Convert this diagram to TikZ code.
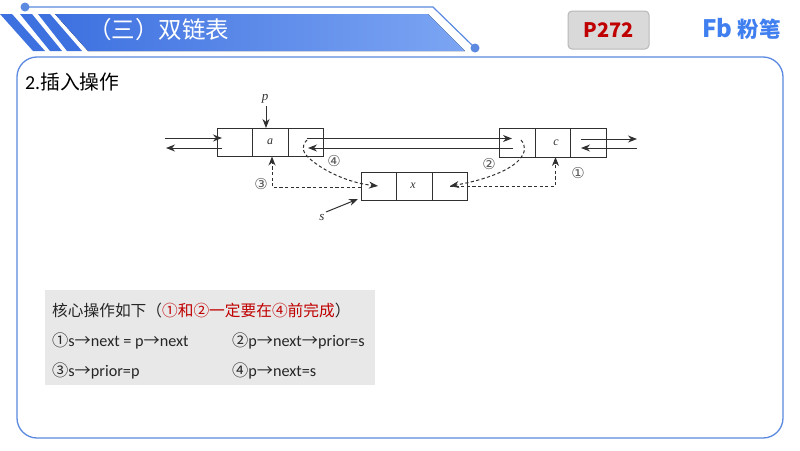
\documentclass[tikz,border=0pt]{standalone}
\usepackage{fontspec}
\usetikzlibrary{arrows.meta}
\setmainfont{Carlito}
\newfontfamily\cjk{Noto Sans CJK SC}
\newfontfamily\djv{DejaVu Sans}
\newfontfamily\serifit{Liberation Serif}
\newcommand{\fs}[1]{\fontsize{#1}{#1}\selectfont}
\newcommand{\ar}{{\cjk →}}
\newcommand{\cn}[1]{{\cjk #1}}
\definecolor{bluel}{HTML}{5B8AE0}
\definecolor{bluea}{HTML}{3E71E0}
\definecolor{blueb}{HTML}{7CA5F3}
\definecolor{logoc}{HTML}{3F7FF0}
\definecolor{redt}{HTML}{C00000}
\definecolor{ink}{HTML}{262626}
\definecolor{diag}{HTML}{303030}
\tikzset{
  cell/.style={draw=diag,line width=1pt,minimum width=35.5pt,minimum height=28.5pt,inner sep=0pt,outer sep=0pt,anchor=north west},
  lnk/.style={draw=diag,line width=1pt,-{Stealth[length=9pt,width=7pt]}},
  lnkd/.style={lnk,dash pattern=on 3.2pt off 2.4pt},
  val/.style={font=\fs{12}\serifit\itshape,text=diag,inner sep=0pt},
  ptr/.style={font=\fs{13}\serifit\itshape,text=diag,inner sep=0pt},
  circ/.style={font=\fs{15}\djv,text=diag!80,inner sep=0pt},
  line/.style={anchor=west,inner sep=0pt,text=ink,font=\fs{16.2}},
}
\begin{document}
\begin{tikzpicture}[x=1pt,y=-1pt]
\useasboundingbox (0,0) rectangle (800,450);
\fill[white] (0,0) rectangle (800,450);
% banner
\fill[left color=bluea,right color=blueb] (55,14) -- (428,14) -- (465,51) -- (88,51) -- cycle;
\fill[bluea] (0,14) -- (12,14) -- (45,51) -- (33,51) -- cycle;
\fill[bluea] (20,14) -- (32,14) -- (62,51) -- (50,51) -- cycle;
\fill[bluea] (38,14) -- (50,14) -- (82,51) -- (67,51) -- cycle;
\draw[bluel,line width=1.2pt] (25,7) -- (433,7) -- (475,48);
\fill[bluel] (25,7) circle (4.5);
\fill[bluel] (475,48) circle (4.5);
\node[anchor=west,inner sep=0pt,text=white,font=\fs{23.5}\cjk] (title) at (88,30) {（三）双链表};
% P272
\node[draw=black!28,line width=1pt,fill=black!15,rounded corners=4pt,minimum width=81pt,minimum height=38pt,inner sep=0pt,text=redt,font=\fs{20}\cjk\bfseries] (page) at (608.5,30) {P272};
% logo
\node[inner sep=0pt,text=logoc,draw=none,font=\fs{24}\cjk\bfseries] (fb) at (717.5,28) {Fb};
\node[inner sep=0pt,text=logoc,font=\fs{21.5}\cjk\bfseries] (brand) at (759,29) {粉笔};
% frame
\draw[bluel,line width=1.3pt,rounded corners=20pt] (17,57) rectangle (783,438);
\node[anchor=west,inner sep=0pt,text=black,font=\fs{19.8}] (head) at (25,82) {2.\cn{插入操作}};
% a
\node[cell] (a1) at (217,128) {};
\node[cell] (a2) at (252.5,128) {};
\node[cell] (a3) at (288,128) {};
\node[val] (aval) at (270,142) {a};
% c
\node[cell] (c1) at (499.5,128.5) {};
\node[cell] (c2) at (535,128.5) {};
\node[cell] (c3) at (570.5,128.5) {};
\node[val] (cval) at (556,143) {c};
% x
\node[cell] (x1) at (361,172) {};
\node[cell] (x2) at (396.5,172) {};
\node[cell] (x3) at (432,172) {};
\node[val] (xval) at (413,186) {x};
% free ends
\coordinate (inl) at (165,138);
\coordinate (inr) at (222,138);
\coordinate (outl) at (166,148);
\coordinate (outr) at (222,148);
\coordinate (nexts) at (307,138.5);
\coordinate (nexte) at (512,138.5);
\coordinate (prevs) at (513,148);
\coordinate (preve) at (308,148);
\coordinate (rts) at (581,139);
\coordinate (rte) at (637,139);
\coordinate (rbs) at (637,148);
\coordinate (rbe) at (581,148);
\coordinate (xn) at (450,186);
\coordinate (xp) at (378,186);
\coordinate (fourS) at (307,140);
\coordinate (twoS) at (521,140);
\coordinate (up3) at (272,187);
\coordinate (up1) at (555.5,186);
\coordinate (pfrom) at (266,106);
\coordinate (pto) at (266,128);
\coordinate (sfrom) at (326,212);
\coordinate (sto) at (358,199);
\draw[lnk] (inl) -- (inr);
\draw[lnk] (outr) -- (outl);
\draw[lnk] (nexts) -- (nexte);
\draw[lnk] (prevs) -- (preve);
\draw[lnk] (rts) -- (rte);
\draw[lnk] (rbs) -- (rbe);
% dashed
\draw[lnkd] (x1.west |- up3) -- (up3) -- (a2.south -| up3);
\draw[lnkd] (xn) -- (up1) -- (c2.south -| up1);
\draw[lnkd] (fourS) .. controls (301,146) and (302,152) .. (310,159) .. controls (325,172) and (350,183) .. (xp);
\draw[lnkd] (twoS) .. controls (526,146) and (526,152) .. (519,160) .. controls (508,172) and (480,181) .. (xn);
% pointers
\node[ptr] (pl) at (265,99) {p};
\node[ptr] (sl) at (322,217) {s};
\draw[lnk] (pfrom) -- (pto);
\draw[lnk] (sfrom) -- (sto);
% circled
\node[circ] (n3) at (261,184) {③};
\node[circ] (n4) at (334,161) {④};
\node[circ] (n2) at (489,164) {②};
\node[circ] (n1) at (578,173) {①};
% panel
\node[fill=black!9,minimum width=330pt,minimum height=95pt,inner sep=0pt,anchor=north west] (panel) at (45,290) {};
\node[line,font=\fs{15.7}\cjk] (ptitle) at (52,311) {核心操作如下（\textcolor{redt}{①和②一定要在④前完成}）};
\node[line] (s1) at (52,341) {\cn{①}s\ar next = p\ar next};
\node[line] (s2) at (232,341) {\cn{②}p\ar next\ar prior=s};
\node[line] (s3) at (52,371) {\cn{③}s\ar prior=p};
\node[line] (s4) at (232,371) {\cn{④}p\ar next=s};
\end{tikzpicture}
\end{document}
